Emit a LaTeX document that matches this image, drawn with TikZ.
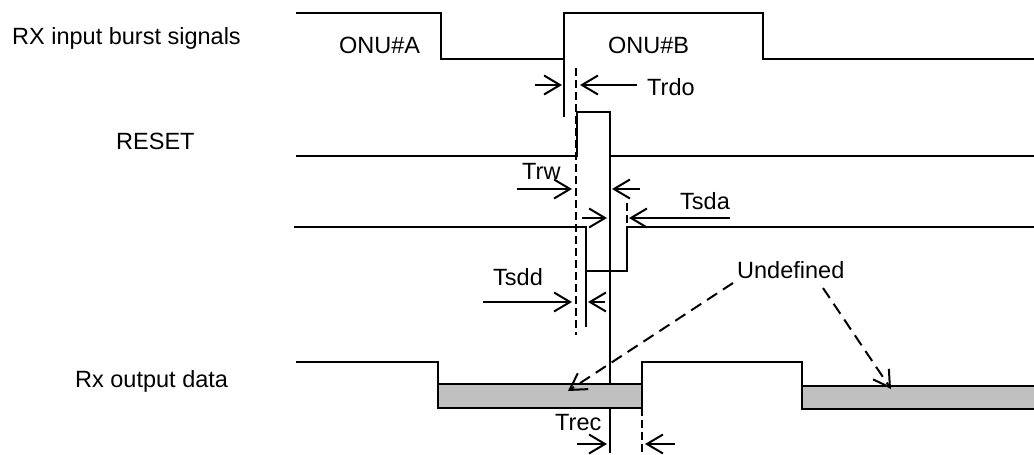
\documentclass[tikz,border=0pt]{standalone}
\usepackage{fontspec}
\setmainfont{Liberation Sans}
\usetikzlibrary{arrows.meta}
\definecolor{undefgray}{HTML}{C0C0C0}

\begin{document}
\begin{tikzpicture}[
  x=1pt,y=-1pt,
  font=\fontsize{23.5}{28}\selectfont,
  wave/.style={line width=2pt},
  dashmark/.style={line width=2pt,dash pattern=on 8pt off 4pt},
  tarrow/.style={line width=2pt,-{Straight Barb[length=16pt,width=19pt]}},
  undefarrow/.style={line width=2pt,dash pattern=on 12pt off 7pt,
    -{Straight Barb[length=16pt,width=19pt]}},
  lbl/.style={inner sep=0pt,anchor=base west}
]
  \useasboundingbox (0,0) rectangle (1034,455);

  % signal names
  \node[lbl] (rxin) at (12,44) {RX input burst signals};
  \node[lbl] (reset) at (116,149) {RESET};
  \node[lbl] (rxout) at (75,387) {Rx output data};

  % RX input burst signals
  \draw[wave] (296,13) -- (441,13) -- (441,59) -- (564,59);
  \draw[wave] (564,117) -- (564,13) -- (763,13) -- (763,59) -- (1034,59);
  \node[lbl] (onua) at (339,53) {ONU\#A};
  \node[lbl] (onub) at (608,53) {ONU\#B};

  % RESET pulse
  \draw[wave] (296,156) -- (577,156) -- (577,112) -- (610,112) -- (610,453);
  \draw[wave] (610,156) -- (1034,156);

  % signal detect
  \draw[wave] (294,227) -- (586,227) -- (586,327);
  \draw[wave] (586,271) -- (627,271) -- (627,227) -- (1034,227);

  % Rx output data
  \fill[undefgray] (438,384) rectangle (642,408);
  \fill[undefgray] (802,386) rectangle (1034,409);
  \draw[wave] (296,362) -- (438,362) -- (438,408) -- (642,408) -- (642,362)
    -- (802,362) -- (802,409) -- (1034,409);
  \draw[wave] (438,384) -- (642,384);
  \draw[wave] (802,386) -- (1034,386);

  % timing marks
  \draw[dashmark] (576,68) -- (576,335);
  \draw[dashmark] (627,203) -- (627,227);
  \draw[dashmark] (642,408) -- (642,455);

  \draw[tarrow] (535,85) -- (562,85);
  \draw[tarrow] (637,85) -- (580,85);
  \node[lbl] (trdo) at (647,95) {Trdo};

  \draw[tarrow] (517,189) -- (572,189);
  \draw[tarrow] (640,189) -- (612,189);
  \node[lbl] (trw) at (522,179) {Trw};

  \draw[tarrow] (582,218) -- (607,218);
  \draw[tarrow] (730,218) -- (629,218);
  \node[lbl] (tsda) at (680,209) {Tsda};

  \draw[tarrow] (483,302) -- (572,302);
  \draw[tarrow] (605,302) -- (588,302);
  \node[lbl] (tsdd) at (493,285) {Tsdd};

  \draw[tarrow] (577,444) -- (607,444);
  \draw[tarrow] (675,444) -- (645,444);
  \node[lbl] (trec) at (555,430) {Trec};

  % undefined regions
  \node[lbl] (undef) at (737,278) {Undefined};
  \coordinate (undefa) at (568,391);
  \coordinate (undefb) at (891,389);
  \draw[undefarrow] (733,283) -- (undefa);
  \draw[undefarrow] (823,288) -- (undefb);
\end{tikzpicture}
\end{document}
